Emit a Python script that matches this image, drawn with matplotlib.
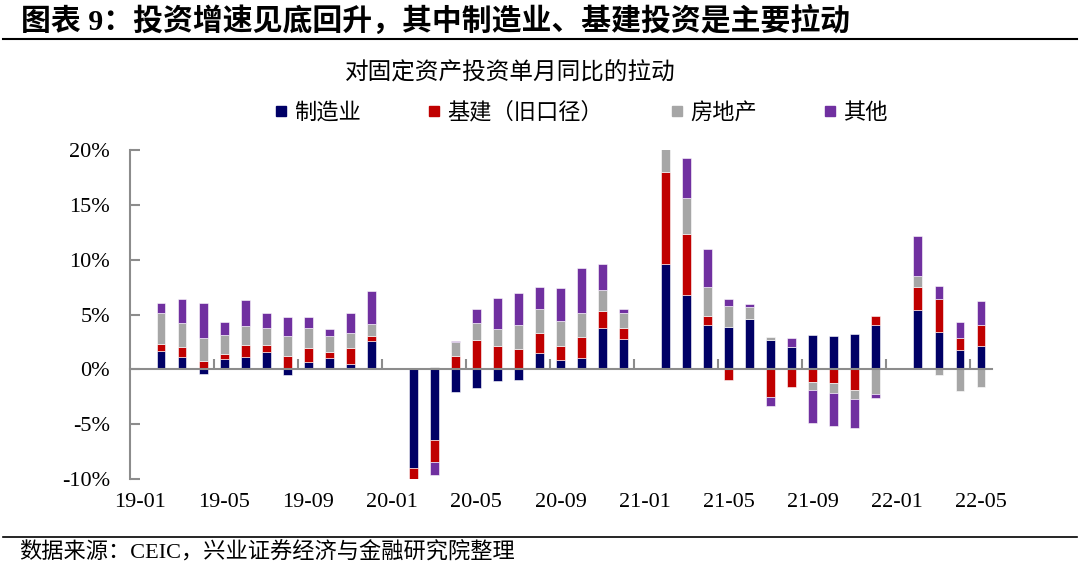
import numpy as np
import matplotlib
matplotlib.use("Agg")
from matplotlib import pyplot as plt
from matplotlib.lines import Line2D

plt.rcParams['font.family'] = ['Liberation Serif', 'Noto Sans CJK SC']
plt.rcParams['axes.unicode_minus'] = False

# months on the x axis (Jan is not published separately)
months = ['19-01', '19-02', '19-03', '19-04', '19-05', '19-06', '19-07', '19-08',
          '19-09', '19-10', '19-11', '19-12',
          '20-01', '20-02', '20-03', '20-04', '20-05', '20-06', '20-07', '20-08',
          '20-09', '20-10', '20-11', '20-12',
          '21-01', '21-02', '21-03', '21-04', '21-05', '21-06', '21-07', '21-08',
          '21-09', '21-10', '21-11', '21-12',
          '22-01', '22-02', '22-03', '22-04', '22-05']

nan = np.nan
# contribution to single-month FAI growth, %
manufacturing = [nan, 1.67, 1.13, -0.40, 0.97, 1.16, 1.55, -0.52, 0.64, 1.00, 0.49, 2.59,
                 nan, -8.98, -6.42, -2.07, -1.67, -1.07, -1.00, 1.49, 0.88, 1.07, 3.77, 2.77,
                 nan, 9.59, 6.82, 4.08, 3.87, 4.57, 2.71, 2.04, 3.10, 3.01, 3.23, 4.05,
                 nan, 5.45, 3.38, 1.80, 2.10]
infrastructure = [nan, 0.61, 0.88, 0.76, 0.46, 1.03, 0.67, 1.19, 1.28, 0.55, 1.43, 0.42,
                  nan, -1.25, -2.04, 1.22, 2.71, 2.13, 1.89, 1.80, 1.25, 1.91, 1.56, 1.00,
                  nan, 8.40, 5.48, 0.76, -0.97, 0.00, -2.56, -1.64, -1.16, -1.28, -1.92, 0.85,
                  nan, 2.04, 3.04, 1.06, 1.98]
real_estate = [nan, 2.83, 2.25, 2.13, 1.71, 1.80, 1.52, 1.88, 1.85, 1.46, 1.43, 1.13,
               nan, 0.00, 0.21, 1.31, 1.49, 1.55, 2.13, 2.22, 2.25, 2.16, 1.91, 1.41,
               nan, 2.10, 3.29, 2.68, 1.94, 1.15, 0.27, 0.00, -0.70, -0.88, -0.76, -2.22,
               nan, 1.06, -0.52, -2.01, -1.61]
other = [nan, 0.97, 2.19, 3.20, 1.18, 2.34, 1.44, 1.71, 1.01, 0.70, 1.83, 3.04,
         nan, 0.00, -1.16, 0.09, 1.34, 2.80, 2.98, 2.01, 3.08, 4.08, 2.35, 0.36,
         nan, 0.00, 3.71, 3.47, 0.64, 0.28, -0.76, 0.79, -3.01, -3.05, -2.65, -0.37,
         nan, 3.63, 1.19, 1.49, 2.16]

series = [('制造业', manufacturing, '#000066'),
          ('基建（旧口径）', infrastructure, '#C00000'),
          ('房地产', real_estate, '#A6A6A6'),
          ('其他', other, '#7030A0')]

yticks = [-10, -5, 0, 5, 10, 15, 20]
axis_gray = '#8C8C8C'

fig = plt.figure(figsize=(10.8, 5.69), dpi=100)
ax = fig.add_axes([129.5 / 1080, 1 - 479 / 569, 862 / 1080, 329 / 569])

x = np.arange(len(months))
pos_bottom = np.zeros(len(months))
neg_bottom = np.zeros(len(months))
handles = []
for name, vals, color in series:
    v = np.nan_to_num(np.array(vals, dtype=float))
    bottom = np.where(v >= 0, pos_bottom, neg_bottom)
    ax.bar(x, v, width=0.42, bottom=bottom, color=color,
           edgecolor='white', linewidth=0.4, zorder=2)
    # square legend marker
    handles.append(Line2D([], [], marker='s', linestyle='none', markersize=7.2,
                          color=color, label=name))
    pos_bottom = pos_bottom + np.where(v > 0, v, 0)
    neg_bottom = neg_bottom + np.where(v < 0, v, 0)

ax.set_xlim(-0.5, len(months) - 0.5)
ax.set_ylim(-10, 20)

# axes look: left spine + zero line with short ticks between groups
for s in ['top', 'right']:
    ax.spines[s].set_visible(False)
ax.spines['left'].set_color(axis_gray)
ax.spines['left'].set_linewidth(1.5)
ax.spines['bottom'].set_position(('data', 0))
ax.spines['bottom'].set_color(axis_gray)
ax.spines['bottom'].set_linewidth(1.5)
ax.spines['bottom'].set_zorder(3)

ax.set_yticks(yticks)
ax.set_yticklabels([f'{t}%' for t in yticks])
ax.tick_params(axis='y', direction='in', length=7, width=1.5, color=axis_gray,
               labelsize=16, pad=14)

ax.set_xticks(np.arange(3.5, len(months) - 1, 4))
ax.tick_params(axis='x', direction='in', length=7, width=1.5, color=axis_gray,
               labelbottom=False)

lab = ax.secondary_xaxis('bottom')
lab.set_xticks(x[::4], [months[i] for i in x[::4]])
lab.tick_params(length=0, pad=10, labelsize=16)
lab.spines['bottom'].set_visible(False)

# titles, legend, source
fig.text(21 / 1080, 1 - 21 / 569, '图表 9：投资增速见底回升，其中制造业、基建投资是主要拉动',
         fontsize=21.5, fontweight='bold', va='center', ha='left')
fig.add_artist(Line2D([3 / 1080, 1077 / 1080], [1 - 39 / 569, 1 - 39 / 569],
                      color='black', linewidth=1.5, transform=fig.transFigure))
fig.text(510 / 1080, 1 - 73 / 569, '对固定资产投资单月同比的拉动',
         fontsize=17, va='center', ha='center')
fig.legend(handles=handles, loc='center', bbox_to_anchor=(581 / 1080, 1 - 113 / 569),
           ncol=4, frameon=False, fontsize=16, handlelength=0.6,
           handletextpad=0.3, columnspacing=3.0)
fig.add_artist(Line2D([3 / 1080, 1077 / 1080], [1 - 537 / 569, 1 - 537 / 569],
                      color='black', linewidth=1.2, transform=fig.transFigure))
fig.text(19 / 1080, 1 - 553 / 569, '数据来源：CEIC，兴业证券经济与金融研究院整理',
         fontsize=16, va='center', ha='left')

fig.savefig('out.png', dpi=100)
